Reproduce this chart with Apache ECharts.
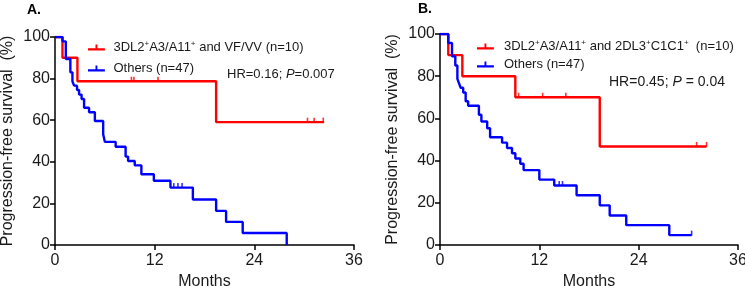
<!DOCTYPE html>
<html>
<head>
<meta charset="utf-8">
<script src="https://cdn.jsdelivr.net/npm/echarts@6/dist/echarts.min.js"></script>
<style>
html,body{margin:0;padding:0;background:#fff;}
#chart{width:745px;height:286px;}
</style>
</head>
<body>
<div id="chart"></div>
<script>
// ---- tick labels ----
const xTicks = [0, 12, 24, 36];
const yTicks = [0, 20, 40, 60, 80, 100];

// ---- Panel A ----
const aRedT = [0, 0.9, 2.7, 19.4, 32.4];
const aRedS = [100, 90, 78.75, 59.06, 59.06];
const aRedCensT = [9.2, 9.5, 12.4, 30.4, 31.2, 32.3];
const aRedCensS = [78.75, 78.75, 78.75, 59.06, 59.06, 59.06];
const aBlueT = [0, 0.9, 1.3, 1.85, 2.1, 2.3, 2.65, 2.9, 3.2, 3.5, 4.1, 4.8, 5.8, 6.0, 7.3, 8.5, 8.8, 9.6, 10.4, 11.9, 13.9, 16.6, 19.4, 20.6, 22.6, 27.9];
const aBlueS = [100, 97.9, 89.4, 83.0, 78.7, 76.6, 74.5, 72.3, 70.2, 66.0, 63.8, 59.6, 53.2, 49.6, 47.2, 42.5, 40.4, 38.3, 34.0, 30.9, 27.6, 21.9, 16.4, 11.1, 5.8, 0];
const aBlueCensT = [14.3, 14.8, 15.3];
const aBlueCensS = [27.6, 27.6, 27.6];

// ---- Panel B ----
const bRedT = [0, 1.0, 2.7, 9.1, 19.3, 32.2];
const bRedS = [100, 90, 80, 70, 46.7, 46.7];
const bRedCensT = [9.5, 12.4, 15.2, 31.0, 32.2];
const bRedCensS = [70, 70, 70, 46.7, 46.7];
const bBlueT = [0, 1.0, 1.45, 1.85, 2.1, 2.3, 2.5, 2.8, 3.1, 3.4, 4.7, 5.0, 5.7, 6.05, 7.5, 8.1, 8.7, 9.1, 9.7, 10.1, 12.0, 13.8, 16.5, 19.3, 20.5, 22.5, 27.7, 30.4];
const bBlueS = [100, 95.7, 89.4, 85.1, 78.7, 76.6, 74.5, 72.3, 68.1, 66.0, 61.7, 58.5, 55.3, 51.1, 48.5, 46.0, 43.5, 41.0, 38.5, 35.5, 31.0, 28.2, 23.6, 18.8, 14.0, 9.4, 4.7, 4.7];
const bBlueCensT = [14.4, 14.8, 30.4];
const bBlueCensS = [28.2, 28.2, 4.7];

const RED = '#ff0000', BLUE = '#0000ff', INK = '#1a1a1a';
const FONT = '"Liberation Sans", Arial, sans-serif';

function zip(t, s) { return t.map((v, i) => [v, s[i]]); }

function xAxisCfg(gi) {
  return {
    gridIndex: gi, type: 'value',
    min: xTicks[0], max: xTicks[xTicks.length - 1], interval: xTicks[1] - xTicks[0],
    name: 'Months', nameLocation: 'middle', nameGap: 27,
    nameTextStyle: { fontFamily: FONT, fontSize: 16, color: INK },
    axisLine: { show: true, lineStyle: { color: '#000', width: 1.5 } },
    axisTick: { show: true, length: 5, lineStyle: { color: '#000', width: 1.5 } },
    axisLabel: { fontFamily: FONT, fontSize: 16, color: INK, margin: 8 },
    splitLine: { show: false }
  };
}
function yAxisCfg(gi, gap) {
  return {
    gridIndex: gi, type: 'value',
    min: yTicks[0], max: yTicks[yTicks.length - 1], interval: yTicks[1] - yTicks[0],
    name: 'Progression-free survival  (%)', nameLocation: 'middle', nameGap: gap,
    nameTextStyle: { fontFamily: FONT, fontSize: 16, color: INK },
    axisLine: { show: true, lineStyle: { color: '#000', width: 1.5 } },
    axisTick: { show: true, length: 5, lineStyle: { color: '#000', width: 1.5 } },
    axisLabel: { fontFamily: FONT, fontSize: 16, color: INK, margin: 5 },
    splitLine: { show: false }
  };
}
function stepSeries(name, gi, t, s, color) {
  return {
    name: name, type: 'line', step: 'end', xAxisIndex: gi, yAxisIndex: gi,
    data: zip(t, s), showSymbol: false, symbol: 'none',
    lineStyle: { color: color, width: 2.4 }, itemStyle: { color: color },
    z: 3
  };
}
function censSeries(gi, t, s, color) {
  return {
    type: 'scatter', xAxisIndex: gi, yAxisIndex: gi,
    data: zip(t, s), symbol: 'rect', symbolSize: [1.6, 5], symbolOffset: [0, -2],
    itemStyle: { color: color }, z: 4, silent: true
  };
}

const legendText = {
  'A-red': '{n|3DL2}{s|+}{n|A3/A11}{s|+}{n| and VF/VV (n=10)}',
  'A-blue': '{n|Others (n=47)}',
  'B-red': '{n|3DL2}{s|+}{n|A3/A11}{s|+}{n| and 2DL3}{s|+}{n|C1C1}{s|+}{n|  (n=10)}',
  'B-blue': '{n|Others (n=47)}'
};
const legRich = {
  n: { fontFamily: FONT, fontSize: 13, color: INK, lineHeight: 15 },
  s: { fontFamily: FONT, fontSize: 8, color: INK, lineHeight: 9, verticalAlign: 'top' }
};
const iconPath = 'path://M0,4h18v2.4H0z M8,0h2v5H8z';

const option = {
  animation: false,
  backgroundColor: '#fff',
  grid: [
    { left: 55, top: 37, width: 299, height: 208, containLabel: false, outerBoundsMode: 'none' },
    { left: 440, top: 34, width: 298, height: 211, containLabel: false, outerBoundsMode: 'none' }
  ],
  xAxis: [xAxisCfg(0), xAxisCfg(1)],
  yAxis: [yAxisCfg(0, 39), yAxisCfg(1, 39)],
  legend: [
    {
      data: ['A-red', 'A-blue'], orient: 'vertical', left: 83, top: 35,
      itemWidth: 18, itemHeight: 6, itemGap: 8, icon: iconPath,
      formatter: n => legendText[n], textStyle: { rich: legRich, padding: [0, 0, 0, 3] },
      selectedMode: false
    },
    {
      data: ['B-red', 'B-blue'], orient: 'vertical', left: 472, top: 34,
      itemWidth: 17, itemHeight: 6, itemGap: 5, icon: iconPath,
      formatter: n => legendText[n], textStyle: { rich: legRich, padding: [0, 0, 0, 5] },
      selectedMode: false
    }
  ],
  graphic: [
    { type: 'text', left: 27, top: 3, style: { text: 'A.', fontFamily: FONT, fontSize: 14, fontWeight: 'bold', fill: '#000' } },
    { type: 'text', left: 418, top: 2, style: { text: 'B.', fontFamily: FONT, fontSize: 14, fontWeight: 'bold', fill: '#000' } },
    { type: 'text', left: 227, top: 68, style: {
        text: '{n|HR=0.16; }{i|P}{n|=0.007}',
        rich: { n: { fontFamily: FONT, fontSize: 13, fill: INK }, i: { fontFamily: FONT, fontSize: 13, fontStyle: 'italic', fill: INK } } } },
    { type: 'text', left: 609, top: 75, style: {
        text: '{n|HR=0.45; }{i|P}{n| = 0.04}',
        rich: { n: { fontFamily: FONT, fontSize: 14, fill: INK }, i: { fontFamily: FONT, fontSize: 14, fontStyle: 'italic', fill: INK } } } }
  ],
  series: [
    stepSeries('A-red', 0, aRedT, aRedS, RED),
    stepSeries('A-blue', 0, aBlueT, aBlueS, BLUE),
    censSeries(0, aRedCensT, aRedCensS, RED),
    censSeries(0, aBlueCensT, aBlueCensS, BLUE),
    stepSeries('B-red', 1, bRedT, bRedS, RED),
    stepSeries('B-blue', 1, bBlueT, bBlueS, BLUE),
    censSeries(1, bRedCensT, bRedCensS, RED),
    censSeries(1, bBlueCensT, bBlueCensS, BLUE)
  ]
};

const chart = echarts.init(document.getElementById('chart'), null, { renderer: 'canvas' });
chart.setOption(option);
</script>
</body>
</html>
